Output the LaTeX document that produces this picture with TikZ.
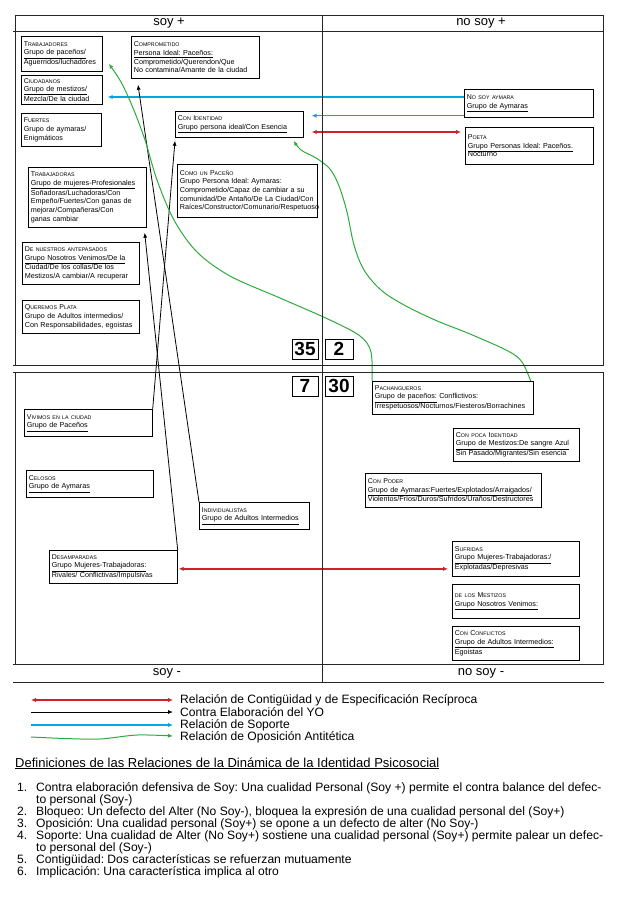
\documentclass[tikz,border=0pt]{standalone}
\usepackage{fontspec}
\setmainfont{Liberation Sans}
\usetikzlibrary{arrows.meta,calc}
\definecolor{relred}{HTML}{D0202E}
\definecolor{relblue}{HTML}{00A6E6}
\definecolor{relgreen}{HTML}{2EAA3C}
\pgfdeclarelayer{bg}
\pgfsetlayers{bg,main}
\frenchspacing
\newcommand\smc[1]{{\fontsize{5.3}{5.5}\selectfont\MakeUppercase{#1}}}
\newcommand\ttl[1]{{\fontsize{7}{8}\selectfont #1}}
\newcommand\bx[6]{\node[box, minimum width=#4pt, minimum height=#5pt, text width=#4pt-5pt] (#1) at (#2,#3) {#6};}
\tikzset{
  box/.style={draw, line width=0.7pt, fill=white, anchor=north west, inner xsep=2.5pt, inner ysep=1pt, align=left, font=\fontsize{7.2}{8.6}\selectfont},
  frame/.style={draw=black!85, line width=0.8pt},
  hdr/.style={font=\fontsize{13}{13}\selectfont, inner sep=0pt},
  numbox/.style={draw, line width=0.8pt, font=\fontsize{19}{19}\selectfont\bfseries, inner sep=0pt},
  contig/.style={draw=relred, line width=1.3pt, {Latex[length=5pt,width=4.5pt]}-{Latex[length=5pt,width=4.5pt]}},
  contra/.style={draw=black, line width=0.8pt, -{Latex[length=5pt,width=4pt]}},
  soporte/.style={draw=relblue, line width=1.5pt, -{Latex[length=5pt,width=4.5pt]}},
  oposic/.style={draw=relgreen, line width=1pt, -{Latex[length=5pt,width=4pt]}},
  legtext/.style={anchor=west, font=\fontsize{12.1}{12}\selectfont, inner sep=0pt},
  deftext/.style={anchor=base west, font=\fontsize{12.1}{12}\selectfont, inner sep=0pt},
}
\begin{document}
\begin{tikzpicture}[x=1pt,y=-1pt]
\useasboundingbox (0,0) rectangle (626,902);
% frame
\draw[frame] (15,15) -- (603,15);
\draw[frame] (13,31) -- (604,31);
\draw[frame] (15,15) -- (15,365);
\draw[frame] (603,15) -- (603,365);
\draw[frame] (13,365) -- (604,365);
\draw[frame] (13,372) -- (604,372);
\draw[frame] (15,372) -- (15,664);
\draw[frame] (603,372) -- (603,664);
\draw[frame] (13,664) -- (604,664);
\draw[frame] (13,682) -- (604,682);
\draw[frame] (322,15) -- (322,682);
% headers
\node[hdr] (hsp) at (169,23) {soy +};
\node[hdr] (hnsp) at (481,23) {no soy +};
\node[hdr] (hsm) at (167,673) {soy -};
\node[hdr] (hnsm) at (481,673) {no soy -};
% numbers
\node[numbox, minimum width=26pt, minimum height=20pt] (n35) at (305,349) {35};
\node[numbox, minimum width=28pt, minimum height=20pt] (n2) at (339,349) {2};
\node[numbox, minimum width=26pt, minimum height=20pt] (n7) at (305,386) {7};
\node[numbox, minimum width=28pt, minimum height=20pt] (n30) at (339,386) {30};
% boxes upper left
\bx{trab}{21}{36}{81}{35}{\ttl{T\smc{rabajadores}}\\\underline{Grupo de paceños/}\\Aguerridos/luchadores}
\bx{comp}{131}{36}{128}{42}{\ttl{C\smc{omprometido}}\\\underline{Persona Ideal: Paceños:}\\Comprometido/Querendon/Que\\No contamina/Amante de la ciudad}
\bx{ciud}{21}{75}{81}{29}{\ttl{C\smc{iudadanos}}\\\underline{Grupo de mestizos/}\\Mezcla/De la ciudad}
\bx{fuer}{21}{113}{80}{33}{\ttl{F\smc{uertes}}\\Grupo de aymaras/\\Enigmáticos}
\bx{conid}{175}{111}{128}{26}{\ttl{C\smc{on} I\smc{dentidad}}\\\underline{Grupo persona ideal/Con Esencia}}
\bx{traba}{28}{167}{118}{60}{\ttl{T\smc{rabajadoras}}\\\underline{Grupo de mujeres-Profesionales}\\Soñadoras/Luchadoras/Con\\Empeño/Fuertes/Con ganas de\\mejorar/Compañeras/Con\\ganas cambiar}
\bx{comop}{177}{164}{140}{53}{\ttl{C\smc{omo un} P\smc{aceño}}\\Grupo Persona Ideal: Aymaras:\\Comprometido/Capaz de cambiar a su\\comunidad/De Antaño/De La Ciudad/Con\\Raíces/Constructor/Comunario/Respetuoso}
\bx{antep}{22}{242}{117}{42}{\ttl{D\smc{e nuestros antepasados}}\\\underline{Grupo Nosotros Venimos/De la}\\Ciudad/De los collas/De los\\Mestizos/A cambiar/A recuperar}
\bx{plata}{22}{300}{117}{33}{\ttl{Q\smc{ueremos} P\smc{lata}}\\Grupo de Adultos intermedios/\\Con Responsabilidades, egoistas}
% upper right
\bx{nosoy}{464}{89}{129}{28}{\ttl{N\smc{o soy aymara}}\\\underline{Grupo de Aymaras}}
\bx{poeta}{465}{127}{128}{37}{\ttl{P\smc{oeta}}\\\underline{Grupo Personas Ideal: Paceños.}\\Nocturno}
% lower left
\bx{vivi}{24}{409}{128}{27}{\ttl{V\smc{ivimos en la ciudad}}\\\underline{Grupo de Paceños}}
\bx{celo}{26}{470}{127}{27}{\ttl{C\smc{elosos}}\\\underline{Grupo de Aymaras}}
\bx{indiv}{199}{502}{110}{27}{\ttl{I\smc{ndividualistas}}\\\underline{Grupo de Adultos Intermedios}}
\bx{desam}{49}{550}{128}{33}{\ttl{D\smc{esamparadas}}\\\underline{Grupo Mujeres-Trabajadoras:}\\Rivales/ Conflictivas/Impulsivas}
% lower right
\bx{pach}{372}{381}{161}{33}{\ttl{P\smc{achangueros}}\\\underline{Grupo de paceños:} Conflictivos:\\Irrespetuosos/Nocturnos/Fiesteros/Borrachines}
\bx{poca}{453}{428}{126}{33}{\ttl{C\smc{on poca} I\smc{dentidad}}\\\underline{Grupo de Mestizos:De sangre Azul}\\Sin Pasado/Migrantes/Sin esencia}
\bx{poder}{365}{473}{176}{34}{\ttl{C\smc{on} P\smc{oder}}\\\underline{Grupo de Aymaras:Fuertes/Explotados/Arraigados/}\\Violentos/Fríos/Duros/Sufridos/Uraños/Destructores}
\bx{sufr}{452}{541}{127}{35}{\ttl{S\smc{ufridas}}\\\underline{Grupo Mujeres-Trabajadoras:/}\\Explotadas/Depresivas}
\bx{mest}{452}{584}{127}{34}{\ttl{\smc{de los} M\smc{estizos}}\\\underline{Grupo Nosotros Venimos:}}
\bx{confl}{452}{626}{127}{34}{\ttl{C\smc{on} C\smc{onflictos}}\\\underline{Grupo de Adultos Intermedios:}\\Egoistas}
% connectors
\coordinate (b1) at ($(nosoy.north west)+(0,8)$);
\coordinate (b2) at ($(nosoy.south west)+(0,-2)$);
\coordinate (r1) at ($(poeta.north west)+(0,5)$);
\coordinate (r2) at ($(desam.east)+(0,2)$);
\coordinate (k1) at ($(comp.south west)+(7,6)$);
\coordinate (k2) at ($(traba.south east)+(-2,5)$);
\coordinate (k3) at ($(conid.south west)+(0,3)$);
\coordinate (g1t) at ($(trab.south east)+(6,-8)$);
\coordinate (g2s) at ($(pach.north east)+(-3,0)$);
\coordinate (g2t) at ($(conid.south east)+(-10,3)$);
\begin{pgfonlayer}{bg}
\draw[soporte, shorten >=5pt] (b1) -- (ciud.east |- b1);
\draw[soporte, shorten >=8pt] (b2) -- (conid.east |- b2);
\draw[contig, shorten <=4pt, shorten >=8pt] (poeta.west |- r1) -- (conid.east |- r1);
\draw[contig, shorten <=1pt, shorten >=4pt] (r2) -- (sufr.west |- r2);
\draw[contra] (indiv.north west) -- (k1);
\draw[contra] (desam.north east) -- (k2);
\draw[contra] (vivi.north east) -- (k3);
\draw[oposic] plot[smooth, tension=0.55] coordinates {(pach.north west) (371,352) (360,336) (330,320) (280,298) (230,276) (197,252) (174,220) (157,180) (145,140) (133,108) (121,82) (g1t)};
\draw[oposic] plot[smooth, tension=0.55] coordinates {(g2s) (522,362) (508,351) (470,334) (435,320) (404,305) (381,290) (364,270) (354,245) (347,212) (339,186) (330,169) (316,158) (301,150) (g2t)};
\end{pgfonlayer}
% legend
\coordinate (l1a) at (31,700); \coordinate (l1b) at (173,700);
\coordinate (l2a) at (31,712); \coordinate (l2b) at (173,712);
\coordinate (l3a) at (31,725); \coordinate (l3b) at (173,725);
\coordinate (l4a) at (31,737); \coordinate (l4b) at (173,736);
\draw[contig] (l1a) -- (l1b);
\draw[contra] (l2a) -- (l2b);
\draw[soporte] (l3a) -- (l3b);
\draw[oposic] plot[smooth] coordinates {(l4a) (65,738.5) (100,739) (137,735) (l4b)};
\node[legtext] (t1) at (180,700) {Relación de Contigüidad y de Especificación Recíproca};
\node[legtext] (t2) at (180,712) {Contra Elaboración del YO};
\node[legtext] (t3) at (180,725) {Relación de Soporte};
\node[legtext] (t4) at (180,737) {Relación de Oposición Antitética};
% definitions
\node[deftext, font=\fontsize{13}{13}\selectfont] (dh) at (15,767) {\underline{Definiciones de las Relaciones de la Dinámica de la Identidad Psicosocial}};
\node[deftext] (d1n) at (17,791) {1.};
\node[deftext] (d1) at (36,791) {Contra elaboración defensiva de Soy: Una cualidad Personal (Soy +) permite el contra balance del defec-};
\node[deftext] (d1b) at (36,803) {to personal (Soy-)};
\node[deftext] (d2n) at (17,815) {2.};
\node[deftext] (d2) at (36,815) {Bloqueo: Un defecto del Alter (No Soy-), bloquea la expresión de una cualidad personal del (Soy+)};
\node[deftext] (d3n) at (17,827) {3.};
\node[deftext] (d3) at (36,827) {Oposición: Una cualidad personal (Soy+) se opone a un defecto de alter (No Soy-)};
\node[deftext] (d4n) at (17,839) {4.};
\node[deftext] (d4) at (36,839) {Soporte: Una cualidad de Alter (No Soy+) sostiene una cualidad personal (Soy+) permite palear un defec-};
\node[deftext] (d4b) at (36,851) {to personal del (Soy-)};
\node[deftext] (d5n) at (17,863) {5.};
\node[deftext] (d5) at (36,863) {Contigüidad: Dos características se refuerzan mutuamente};
\node[deftext] (d6n) at (17,875) {6.};
\node[deftext] (d6) at (36,875) {Implicación: Una característica implica al otro};
\end{tikzpicture}
\end{document}
